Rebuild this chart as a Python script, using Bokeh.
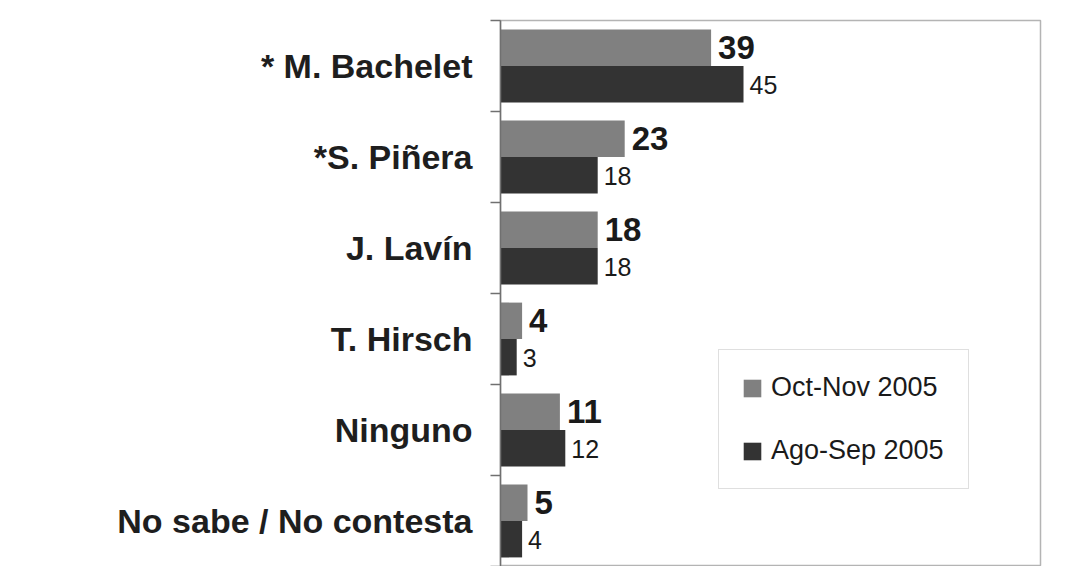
from bokeh.plotting import figure
from bokeh.models import ColumnDataSource, Range1d, FixedTicker, Legend, LegendItem
from bokeh.core.properties import value
from bokeh.embed import file_html
from bokeh.resources import INLINE

categories = ["* M. Bachelet", "*S. Piñera", "J. Lavín", "T. Hirsch", "Ninguno", "No sabe / No contesta"]
oct_nov = [39, 23, 18, 4, 11, 5]
ago_sep = [45, 18, 18, 3, 12, 4]
series_names = ["Oct-Nov 2005", "Ago-Sep 2005"]

n = len(categories)
centers = [i + 0.5 for i in range(n)]
src_a = ColumnDataSource(dict(y=[i + 0.3 for i in range(n)], v=oct_nov, t=[str(x) for x in oct_nov]))
src_b = ColumnDataSource(dict(y=[i + 0.7 for i in range(n)], v=ago_sep, t=[str(x) for x in ago_sep]))

H = 566
p = figure(width=1054, height=H, output_backend="svg", toolbar_location=None,
           x_range=Range1d(0, 100), y_range=Range1d(n, 0),
           x_axis_location=None, min_border_left=500, min_border_top=20,
           min_border_right=14, min_border_bottom=0)
p.background_fill_color = "white"
p.border_fill_color = "white"
p.outline_line_color = "#b4b4b4"
p.outline_line_width = 1.5
p.grid.visible = False

r1 = p.hbar(y="y", right="v", left=0, height=0.4, source=src_a, fill_color="#808080", line_color=None)
r2 = p.hbar(y="y", right="v", left=0, height=0.4, source=src_b, fill_color="#333333", line_color=None)

p.text(x="v", y="y", text="t", source=src_a, x_offset=7, text_baseline="middle", text_align="left",
       text_font=value("Liberation Sans"), text_font_style="bold", text_font_size="33px", text_color="#1a1a1a")
p.text(x="v", y="y", text="t", source=src_b, x_offset=6, y_offset=1, text_baseline="middle", text_align="left",
       text_font=value("Liberation Sans"), text_font_size="25px", text_color="#1a1a1a")

ax = p.yaxis[0]
ax.ticker = FixedTicker(ticks=centers, minor_ticks=list(range(n + 1)))
ax.major_label_overrides = {c: lab for c, lab in zip(centers, categories)}
ax.major_tick_line_color = None
ax.major_tick_out = 0
ax.major_tick_in = 0
ax.minor_tick_out = 10
ax.minor_tick_in = 0
ax.minor_tick_line_color = "#707070"
ax.minor_tick_line_width = 1.5
ax.axis_line_color = "#707070"
ax.axis_line_width = 1.5
ax.major_label_standoff = 18
ax.major_label_text_font = "Liberation Sans"
ax.major_label_text_font_style = "bold"
ax.major_label_text_font_size = "34px"
ax.major_label_text_color = "#1e1e1e"

legend = Legend(items=[LegendItem(label=series_names[0], renderers=[r1]),
                       LegendItem(label=series_names[1], renderers=[r2])],
                location=(218, H - 489), orientation="vertical")
legend.padding = 22
legend.spacing = 32
legend.glyph_width = 22
legend.glyph_height = 22
legend.label_standoff = 8
legend.label_width = 175
legend.label_text_font = "Liberation Sans"
legend.label_text_font_size = "27px"
legend.label_text_color = "#1a1a1a"
legend.border_line_color = "#c0c0c0"
legend.border_line_width = 1.5
legend.background_fill_color = "white"
legend.background_fill_alpha = 1
legend.margin = 0
p.add_layout(legend)

open("out.html", "w").write(file_html(p, INLINE))
